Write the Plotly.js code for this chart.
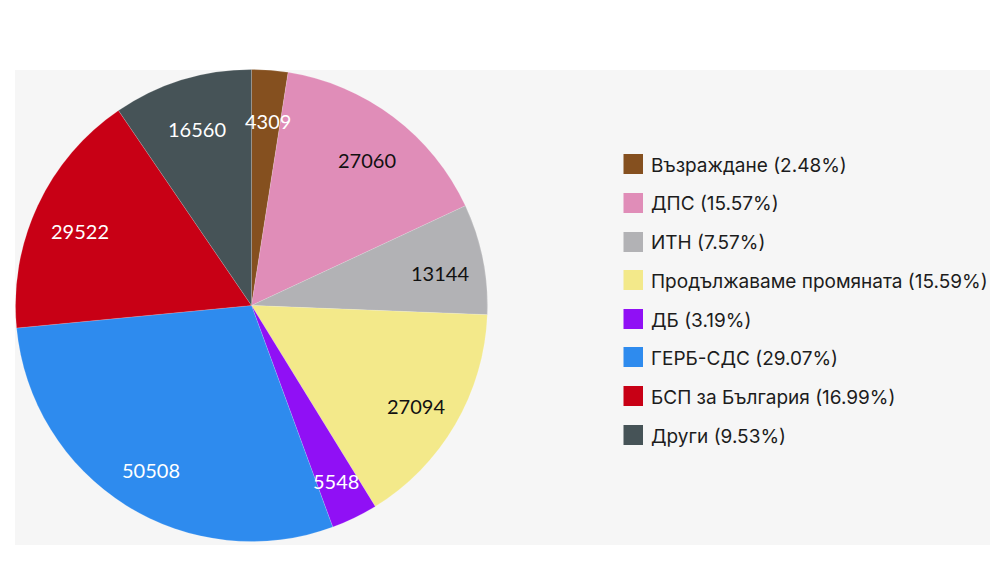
<!DOCTYPE html>
<html><head><meta charset="utf-8">
<script src="https://cdn.plot.ly/plotly-3.0.1.min.js"></script>
<style>html,body{margin:0;padding:0;background:#fff}</style></head>
<body><div id="chart" style="width:1000px;height:579px"></div>
<script>
const names = ["Възраждане","ДПС","ИТН","Продължаваме промяната","ДБ","ГЕРБ-СДС","БСП за България","Други"];
const values = [4309,27060,13144,27094,5548,50508,29522,16560];
const percents = ["2.48%","15.57%","7.57%","15.59%","3.19%","29.07%","16.99%","9.53%"];
const colors = ["#85501f","#e08db8","#b2b2b5","#f3e98a","#9010f5","#2e8bee","#c80015","#465357"];
const textColors = ["#fff","#111","#111","#111","#fff","#fff","#fff","#fff"];
const W = 1000, H = 579;
const px = x => x / W, py = y => 1 - y / H;
const labelX = [268,367,440,416,336,151,80,197];
const labelY = [121,160,273,406,481,470,231,129];
const legendY = [164,203,242,280,319,357,396,435];

const traces = [{
  type:"pie", sort:false, direction:"clockwise", rotation:0,
  labels:names, values:values,
  marker:{colors:colors,line:{color:"rgba(255,255,255,0.3)",width:0.5}},
  textinfo:"none", hoverinfo:"label+value+percent",
  domain:{x:[px(15.5),px(487.5)],y:[py(541.5),py(69.5)]}, showlegend:false
}];
const shapes = [{type:"rect",xref:"paper",yref:"paper",x0:px(15),x1:px(990),y0:py(545),y1:py(70),fillcolor:"#f6f6f6",line:{width:0},layer:"below"}];
const annotations = [];
values.forEach((v,i)=>{
  annotations.push({xref:"paper",yref:"paper",x:px(labelX[i]),y:py(labelY[i]),xanchor:"center",yanchor:"middle",showarrow:false,
    text:String(v),font:{family:"Lato",size:20,color:textColors[i]}});
  shapes.push({type:"rect",xref:"paper",yref:"paper",x0:px(623.5),x1:px(643),y0:py(legendY[i]+10),y1:py(legendY[i]-10),fillcolor:colors[i],line:{width:0}});
  annotations.push({xref:"paper",yref:"paper",x:px(649),y:py(legendY[i]+1),xanchor:"left",yanchor:"middle",showarrow:false,
    text:names[i]+" ("+percents[i]+")",font:{family:"Inter",size:19,color:"#1c1c1c"}});
});
const layout = {
  width:W,height:H,margin:{l:0,r:0,t:0,b:0},paper_bgcolor:"#fff",plot_bgcolor:"#fff",
  font:{family:"Lato",color:"#222"},showlegend:false,shapes:shapes,annotations:annotations
};
Plotly.newPlot("chart",traces,layout,{displayModeBar:false});
</script></body></html>
